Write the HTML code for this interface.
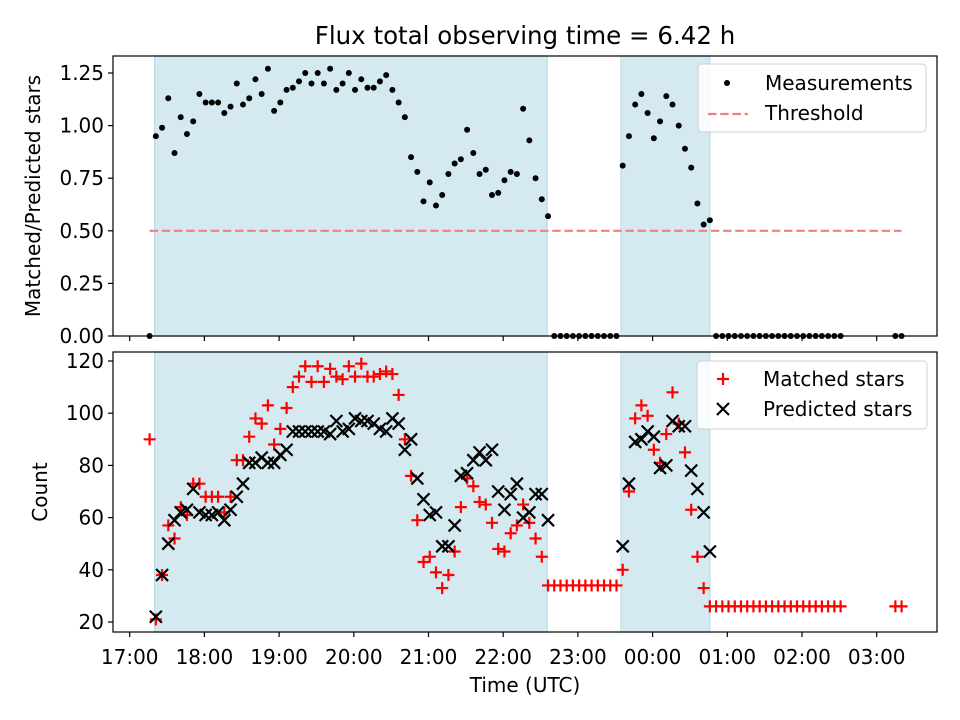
<!DOCTYPE html>
<html><head><meta charset="utf-8"><style>
html,body{margin:0;padding:0;background:#fff;}
svg{display:block;font-family:"DejaVu Sans","Liberation Sans",sans-serif;}
</style></head><body>
<svg id="chart" width="960" height="720" viewBox="0 0 960 720">
<text x="525" y="44" text-anchor="middle" font-size="24.5">Flux total observing time = 6.42 h</text>
<g id="top"></g>
<g id="bot"></g>
<text transform="translate(40,196) rotate(-90)" text-anchor="middle" font-size="20">Matched/Predicted stars</text>
<text transform="translate(47,492) rotate(-90)" text-anchor="middle" font-size="20">Count</text>
<text x="525" y="692" text-anchor="middle" font-size="20">Time (UTC)</text>
</svg>
<script>
const times=[16,21,26,31,36,41,46,51,56,61,66,71,76,81,86,91,96,101,106,111,116,121,126,131,136,141,146,151,156,161,166,171,176,181,186,191,196,201,206,211,216,221,226,231,236,241,246,251,256,261,266,271,276,281,286,291,296,301,306,311,316,321,326,331,336,341,346,351,356,361,366,371,376,381,386,391,396,401,406,411,416,421,426,431,436,441,446,451,456,461,466,471,476,481,486,491,496,501,506,511,516,521,526,531,536,541,546,551,556,561,566,571,615,620];
const ratio=[0,0.95,0.99,1.13,0.87,1.04,0.96,1.02,1.15,1.11,1.11,1.11,1.06,1.09,1.20,1.10,1.13,1.22,1.15,1.27,1.07,1.11,1.17,1.18,1.21,1.25,1.20,1.25,1.20,1.27,1.17,1.20,1.25,1.17,1.22,1.18,1.18,1.21,1.24,1.17,1.11,1.04,
0.85,0.78,0.64,0.73,0.62,0.67,0.77,0.82,0.84,0.98,0.87,0.77,0.79,0.67,0.68,0.74,0.78,0.77,1.08,0.93,0.75,0.65,0.57,
0,0,0,0,0,0,0,0,0,0,0,
0.81,0.95,1.10,1.15,1.06,0.94,1.02,1.14,1.10,1.00,0.89,0.80,0.63,0.53,0.55,
0,0,0,0,0,0,0,0,0,0,0,0,0,0,0,0,0,0,0,0,0,0,0];
const matched=[90,21,38,57,52,64,61,73,73,68,68,68,62,68,82,82,91,98,96,103,88,94,102,110,114,118,112,118,112,117,114,113,118,114,119,114,114,115,116,115,107,90,
76,59,43,45,39,33,38,47,64,75,72,66,65,58,48,47,54,57,65,58,52,45,34,
34,34,34,34,34,34,34,34,34,34,34,
40,70,98,103,99,86,81,92,108,96,85,63,45,33,26,
26,26,26,26,26,26,26,26,26,26,26,26,26,26,26,26,26,26,26,26,26,26,26];
const predicted=[null,22,38,50,59,62,63,71,62,61,61,62,59,63,68,73,81,81,83,81,81,84,86,93,93,93,93,93,93,92,97,93,94,98,97,97,96,94,93,98,96,86,
90,75,67,61,62,49,49,57,76,77,82,85,82,86,70,63,69,73,60,62,69,69,59,
null,null,null,null,null,null,null,null,null,null,null,
49,73,89,90,93,91,79,80,97,95,95,78,71,62,47,
null,null,null,null,null,null,null,null,null,null,null,null,null,null,null,null,null,null,null,null,null,null,null];
const spanStart=[20,394.6];
const spanEnd=[335.3,466];
const threshold=0.5;
const xTickVals=[0,60,120,180,240,300,360,420,480,540,600];
const xTickLabels=["17:00","18:00","19:00","20:00","21:00","22:00","23:00","00:00","01:00","02:00","03:00"];
const topTicks=[0,0.25,0.5,0.75,1.0,1.25];
const topTickLabels=["0.00","0.25","0.50","0.75","1.00","1.25"];
const botTicks=[20,40,60,80,100,120];
const botTickLabels=["20","40","60","80","100","120"];

const NS="http://www.w3.org/2000/svg";
const L=113,R=937;
const xs=m=>129.7+m*1.245;
const yT=v=>336-v*210.4;
const yB=v=>622-(v-20)*2.61;
function mk(p,tag,a){const e=document.createElementNS(NS,tag);for(const k in a)e.setAttribute(k,a[k]);p.appendChild(e);return e;}

function panel(g,top,bot,yf,ticks,labels,prefix){
  for(let i=0;i<spanStart.length;i++){
    const r=mk(g,'rect',{x:xs(spanStart[i]),y:top,width:xs(spanEnd[i])-xs(spanStart[i]),height:bot-top,fill:'#d4eaf0',stroke:'#bcdbe6','stroke-width':1.2});
    
    
  }
  for(let i=0;i<xTickVals.length;i++){
    const x=xs(xTickVals[i]);
    const t=mk(g,'line',{x1:x,x2:x,y1:bot,y2:bot+5,stroke:'#000','stroke-width':1.2});
    
    
  }
  for(let i=0;i<ticks.length;i++){
    const y=yf(ticks[i]);
    const t=mk(g,'line',{x1:L-5,x2:L,y1:y,y2:y,stroke:'#000','stroke-width':1.2});
    
    
    const tx=mk(g,'text',{x:L-9,y:y+7,'text-anchor':'end','font-size':20});
    tx.textContent=labels[i];
    
    
  }
}
const gt=document.getElementById('top'), gb=document.getElementById('bot');
panel(gt,56,336,yT,topTicks,topTickLabels,'top');
panel(gb,352,632,yB,botTicks,botTickLabels,'bottom');

const th=mk(gt,'line',{x1:xs(times[0]),x2:xs(times[times.length-1]),y1:yT(threshold),y2:yT(threshold),stroke:'#f08080','stroke-width':2.2,'stroke-dasharray':'8.5,3.7'});



for(let i=0;i<times.length;i++){
  const c=mk(gt,'circle',{cx:xs(times[i]),cy:yT(ratio[i]),r:3,fill:'#000'});
  
  
}
for(let i=0;i<times.length;i++){
  const x=xs(times[i]),y=yB(matched[i]);
  const p=mk(gb,'path',{d:`M${x-6},${y}H${x+6}M${x},${y-6}V${y+6}`,stroke:'#ff0000','stroke-width':2.2});
  
  
}
for(let i=0;i<times.length;i++){
  if(predicted[i]==null)continue;
  const x=xs(times[i]),y=yB(predicted[i]);
  const p=mk(gb,'path',{d:`M${x-6},${y-6}L${x+6},${y+6}M${x-6},${y+6}L${x+6},${y-6}`,stroke:'#000','stroke-width':2.2});
  
  
}
[[gt,56,336],[gb,352,632]].forEach(([g,t,b],k)=>{
  const f=mk(g,'rect',{x:L,y:t,width:R-L,height:b-t,fill:'none',stroke:'#000','stroke-width':1.2});
  
  
});
for(let i=0;i<xTickVals.length;i++){
  const tx=mk(gb,'text',{x:xs(xTickVals[i]),y:664,'text-anchor':'middle','font-size':20});
  tx.textContent=xTickLabels[i];
  
  
}
const lt=mk(gt,'g',{});


mk(lt,'rect',{x:698,y:64,width:228,height:68,rx:4,fill:'#fff','fill-opacity':0.85,stroke:'#d0d0d0'});
mk(lt,'circle',{cx:727,cy:83,r:3,fill:'#000'});
let t1=mk(lt,'text',{x:765,y:90,'font-size':20});t1.textContent='Measurements';


mk(lt,'line',{x1:708,x2:748,y1:114,y2:114,stroke:'#f08080','stroke-width':2.2,'stroke-dasharray':'8.5,3.7'});
let t2=mk(lt,'text',{x:765,y:120,'font-size':20});t2.textContent='Threshold';



const lb=mk(gb,'g',{});


mk(lb,'rect',{x:697,y:361,width:230,height:68,rx:4,fill:'#fff','fill-opacity':0.85,stroke:'#d0d0d0'});
mk(lb,'path',{d:'M717,379H729M723,373V385',stroke:'#ff0000','stroke-width':2.2});
let t3=mk(lb,'text',{x:763,y:386,'font-size':20});t3.textContent='Matched stars';


mk(lb,'path',{d:'M717,403L729,415M717,415L729,403',stroke:'#000','stroke-width':2.2});
let t4=mk(lb,'text',{x:763,y:416,'font-size':20});t4.textContent='Predicted stars';


</script>
</body></html>
